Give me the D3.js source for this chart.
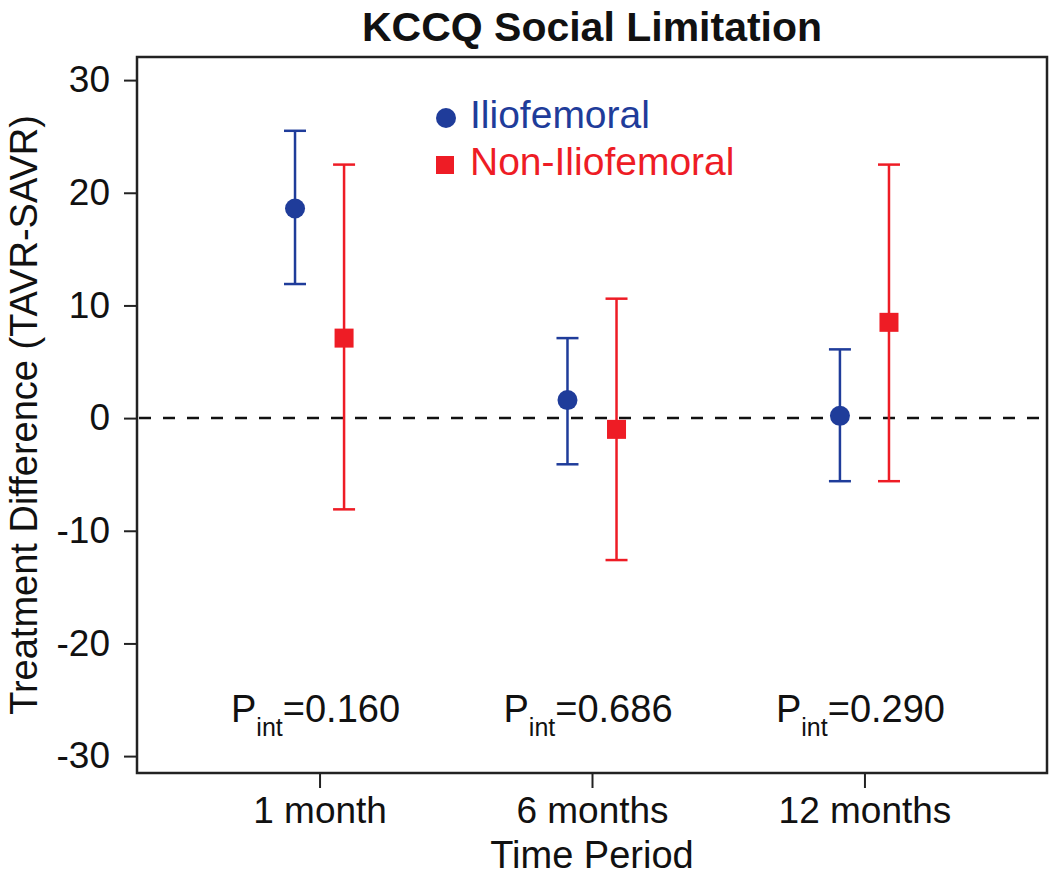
<!DOCTYPE html>
<html>
<head>
<meta charset="utf-8">
<script src="https://cdn.jsdelivr.net/npm/d3@7"></script>
<style>
  html, body { margin: 0; padding: 0; background: #fff; }
  svg text { font-family: "Liberation Sans", Arial, sans-serif; }
</style>
</head>
<body>
<svg id="chart" width="1050" height="875"></svg>
<script>
// ---- data ----
const categories = ["1 month", "6 months", "12 months"];
const seriesNames = ["Iliofemoral", "Non-Iliofemoral"];
const ilioMean  = [18.6, 1.6, 0.2];
const ilioLow   = [11.9, -4.1, -5.6];
const ilioHigh  = [25.5, 7.1, 6.1];
const nonMean   = [7.1, -1.0, 8.5];
const nonLow    = [-8.1, -12.6, -5.6];
const nonHigh   = [22.5, 10.6, 22.5];
const pInt      = ["0.160", "0.686", "0.290"];
const yTicks    = [-30, -20, -10, 0, 10, 20, 30];

const colors = { "Iliofemoral": "#1f3c9a", "Non-Iliofemoral": "#ee1c25" };

const svg = d3.select("#chart");
const m = { left: 137, right: 1047, top: 57, bottom: 773 };

const x = d3.scaleLinear().domain([0.33, 3.67]).range([m.left, m.right]);
const y = d3.scaleLinear().domain([-31.5, 32.05]).range([m.bottom, m.top]);
const dodge = 0.09;

// y axis
const yAxis = svg.append("g").attr("transform", `translate(${m.left},0)`)
  .call(d3.axisLeft(y).tickValues(yTicks).tickFormat(d => String(d)).tickSize(13).tickPadding(14));
yAxis.select(".domain").remove();
yAxis.selectAll("line").attr("stroke", "#222").attr("stroke-width", 2);
yAxis.selectAll("text").attr("font-size", 37).attr("fill", "#111")
  .attr("font-family", "Liberation Sans, Arial, sans-serif");

// x axis
const xAxis = svg.append("g").attr("transform", `translate(0,${m.bottom})`)
  .call(d3.axisBottom(x).tickValues([1, 2, 3]).tickFormat((d, i) => categories[i]).tickSize(15).tickPadding(9));
xAxis.select(".domain").remove();
xAxis.selectAll("line").attr("stroke", "#222").attr("stroke-width", 2);
xAxis.selectAll("text").attr("font-size", 37).attr("fill", "#111")
  .attr("font-family", "Liberation Sans, Arial, sans-serif");

// frame
svg.append("rect").attr("x", m.left).attr("y", m.top)
  .attr("width", m.right - m.left).attr("height", m.bottom - m.top)
  .attr("fill", "none").attr("stroke", "#222").attr("stroke-width", 2.5);

// zero line
svg.append("line").attr("x1", m.left + 2).attr("x2", m.right - 2)
  .attr("y1", y(0)).attr("y2", y(0))
  .attr("stroke", "#111").attr("stroke-width", 2.5).attr("stroke-dasharray", "12,12");

// series
const series = [
  { name: seriesNames[0], mean: ilioMean, low: ilioLow, high: ilioHigh, off: -dodge, shape: "circle" },
  { name: seriesNames[1], mean: nonMean, low: nonLow, high: nonHigh, off: dodge, shape: "square" }
];
const capW = 11;
series.forEach(s => {
  const g = svg.append("g");
  const col = colors[s.name];
  categories.forEach((c, i) => {
    const cx = x(i + 1 + s.off);
    g.append("line").attr("x1", cx).attr("x2", cx).attr("y1", y(s.low[i])).attr("y2", y(s.high[i]))
      .attr("stroke", col).attr("stroke-width", 2.5);
    [s.low[i], s.high[i]].forEach(v => {
      g.append("line").attr("x1", cx - capW).attr("x2", cx + capW).attr("y1", y(v)).attr("y2", y(v))
        .attr("stroke", col).attr("stroke-width", 2.5);
    });
    if (s.shape === "circle") {
      g.append("circle").attr("cx", cx).attr("cy", y(s.mean[i])).attr("r", 10).attr("fill", col);
    } else {
      g.append("rect").attr("x", cx - 9.5).attr("y", y(s.mean[i]) - 9.5).attr("width", 19).attr("height", 19).attr("fill", col);
    }
  });
});

// legend
const leg = svg.append("g");
leg.append("circle").attr("cx", 446).attr("cy", 118).attr("r", 10).attr("fill", colors[seriesNames[0]]);
leg.append("text").attr("x", 470).attr("y", 128).attr("font-size", 39).attr("fill", colors[seriesNames[0]]).text(seriesNames[0]);
leg.append("rect").attr("x", 436).attr("y", 156).attr("width", 18).attr("height", 18).attr("fill", colors[seriesNames[1]]);
leg.append("text").attr("x", 470).attr("y", 175).attr("font-size", 39).attr("fill", colors[seriesNames[1]]).text(seriesNames[1]);

// P interaction labels
categories.forEach((c, i) => {
  const t = svg.append("text").attr("x", x(i + 1) - 4).attr("y", 722).attr("text-anchor", "middle")
    .attr("font-size", 38).attr("fill", "#111");
  t.append("tspan").text("P");
  t.append("tspan").attr("font-size", 25).attr("dy", 14).text("int");
  t.append("tspan").attr("dy", -14).text("=" + pInt[i]);
});

// title
svg.append("text").attr("x", (m.left + m.right) / 2).attr("y", 41).attr("text-anchor", "middle")
  .attr("font-size", 41).attr("font-weight", "bold").attr("fill", "#111").text("KCCQ Social Limitation");

// axis titles
svg.append("text").attr("x", (m.left + m.right) / 2).attr("y", 868).attr("text-anchor", "middle")
  .attr("font-size", 38).attr("fill", "#111").text("Time Period");
svg.append("text").attr("transform", `translate(37,${(m.top + m.bottom) / 2}) rotate(-90)`)
  .attr("text-anchor", "middle").attr("font-size", 38).attr("fill", "#111")
  .text("Treatment Difference (TAVR-SAVR)");
</script>
</body>
</html>
